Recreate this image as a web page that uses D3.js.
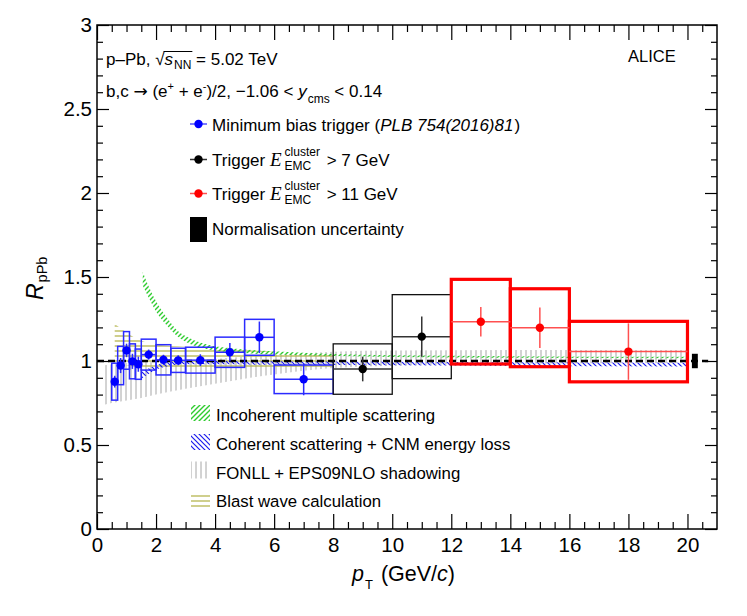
<!DOCTYPE html>
<html>
<head>
<meta charset="utf-8">
<script src="https://cdn.jsdelivr.net/npm/d3@7"></script>
<style>
  body { margin: 0; background: #fff; }
  text { white-space: pre; }
</style>
</head>
<body>
<script>
// ---- data ----
// minimum bias (PLB 754 (2016) 81)
const mbPt   = [0.6, 0.8, 1.0, 1.2, 1.4, 1.75, 2.25, 2.75, 3.5, 4.5, 5.5, 7.0];
const mbLo   = [0.5, 0.7, 0.9, 1.1, 1.3, 1.5, 2.0, 2.5, 3.0, 4.0, 5.0, 6.0];
const mbHi   = [0.7, 0.9, 1.1, 1.3, 1.5, 2.0, 2.5, 3.0, 4.0, 5.0, 6.0, 8.0];
const mbR    = [0.877, 0.973, 1.063, 0.998, 0.981, 1.038, 1.007, 1.004, 1.005, 1.052, 1.141, 0.891];
const mbStat = [0.035, 0.045, 0.04, 0.045, 0.045, 0.03, 0.03, 0.03, 0.035, 0.055, 0.094, 0.095];
const mbSys  = [0.11, 0.114, 0.112, 0.104, 0.09, 0.092, 0.09, 0.072, 0.077, 0.09, 0.107, 0.085];

// EMCal trigger > 7 GeV
const e7Pt   = [9, 11];
const e7Lo   = [8, 10];
const e7Hi   = [10, 12];
const e7R    = [0.952, 1.145];
const e7Stat = [0.073, 0.12];
const e7Sys  = [0.15, 0.25];

// EMCal trigger > 11 GeV
const e11Pt   = [13, 15, 18];
const e11Lo   = [12, 14, 16];
const e11Hi   = [14, 16, 20];
const e11R    = [1.234, 1.198, 1.056];
const e11Stat = [0.088, 0.12, 0.168];
const e11Sys  = [0.252, 0.232, 0.18];

// normalisation uncertainty
const normPt = [20.15, 20.35];
const normUnc = 0.043;

// model bands
const incohPt = [1.55, 1.8, 2.0, 2.4, 2.7, 3.1, 3.7, 4.8, 6.3, 8, 12, 20];
const incohHi = [1.53, 1.425, 1.355, 1.25, 1.185, 1.14, 1.10, 1.072, 1.055, 1.042, 1.031, 1.025];
const incohLo = [1.45, 1.36, 1.295, 1.205, 1.15, 1.105, 1.072, 1.05, 1.037, 1.03, 1.021, 1.016];

const cohPt = [1.5, 1.8, 2.0, 2.5, 3, 4, 6, 10, 14, 20];
const cohHi = [0.935, 0.96, 0.975, 0.995, 1.0, 1.0, 0.998, 0.995, 0.993, 0.99];
const cohLo = [0.895, 0.928, 0.948, 0.972, 0.98, 0.98, 0.977, 0.974, 0.97, 0.967];

const fonllPt = [0.25, 0.5, 1, 1.5, 2, 3, 4, 5, 6, 8, 10, 14, 20];
const fonllHi = [0.975, 0.98, 0.99, 0.995, 1.0, 1.005, 1.012, 1.025, 1.035, 1.055, 1.062, 1.065, 1.065];
const fonllLo = [0.74, 0.75, 0.765, 0.78, 0.80, 0.835, 0.865, 0.895, 0.92, 0.958, 0.972, 0.983, 0.988];

const bwPt = [0.6, 1.0, 1.5, 2.0, 3.0, 4.0, 5.0, 6.0, 7.0, 8.0];
const bwHi = [1.22, 1.17, 1.12, 1.10, 1.085, 1.075, 1.065, 1.055, 1.045, 1.04];
const bwLo = [0.99, 0.975, 0.96, 0.955, 0.95, 0.95, 0.95, 0.952, 0.955, 0.958];

// ticks
const xMajor = [0, 2, 4, 6, 8, 10, 12, 14, 16, 18, 20];
const yMajor = [0, 0.5, 1, 1.5, 2, 2.5, 3];

const sans = "'Liberation Sans', Arial, Helvetica, sans-serif";
const serif = "'Liberation Serif', 'Times New Roman', serif";
const sym = "'DejaVu Sans', sans-serif";

var width = 747, height = 616;
var plot = {left: 97, right: 717, top: 25, bottom: 529};

var x = d3.scaleLinear().domain([0, 21]).range([plot.left, plot.right]);
var y = d3.scaleLinear().domain([0, 3]).range([plot.bottom, plot.top]);

var svg = d3.select("body").append("svg")
    .attr("width", width)
    .attr("height", height)
    .attr("font-family", sans);

// hatch patterns
var defs = svg.append("defs");
function hatch(id, w, h, d, color, sw) {
    defs.append("pattern")
        .attr("id", id)
        .attr("patternUnits", "userSpaceOnUse")
        .attr("width", w).attr("height", h)
        .append("path")
        .attr("d", d)
        .attr("stroke", color)
        .attr("stroke-width", sw)
        .attr("fill", "none");
}
hatch("h-green", 5, 5, "M-1,1 l2,-2 M0,5 l5,-5 M4,6 l2,-2", "#2fcc2f", 1.4);
hatch("h-blue", 5, 5, "M-1,4 l2,2 M0,0 l5,5 M4,-1 l2,2", "#1a1aee", 1.2);
hatch("h-gray", 5, 5, "M1,0 v5", "#a6a6a6", 1);
hatch("h-olive", 5, 5, "M0,1 h5", "#b4b44e", 1.3);

// ---- model bands ----
function band(pt, lo, hi) {
    return pt.map((p, i) => ({pt: p, lo: lo[i], hi: hi[i]}));
}
var area = d3.area()
    .x(d => x(d.pt))
    .y0(d => y(d.lo))
    .y1(d => y(d.hi))
    .curve(d3.curveMonotoneX);

const bands = svg.append("g").attr("class", "bands");
bands.append("path").datum(band(fonllPt, fonllLo, fonllHi))
    .attr("d", area).attr("fill", "url(#h-gray)");
bands.append("path").datum(band(bwPt, bwLo, bwHi))
    .attr("d", area).attr("fill", "url(#h-olive)");
bands.append("path").datum(band(incohPt, incohLo, incohHi))
    .attr("d", area).attr("fill", "url(#h-green)");
bands.append("path").datum(band(cohPt, cohLo, cohHi))
    .attr("d", area).attr("fill", "url(#h-blue)");

// unity line
svg.append("line")
    .attr("x1", x(0)).attr("x2", x(20.7))
    .attr("y1", y(1)).attr("y2", y(1))
    .attr("stroke", "black")
    .attr("stroke-width", 2.4)
    .attr("stroke-dasharray", "7,4");

// ---- data ----
function rows(pt, lo, hi, r, st, sy) {
    return pt.map((p, i) => ({pt: p, lo: lo[i], hi: hi[i], r: r[i], stat: st[i], sys: sy[i]}));
}
function series(data, boxColor, boxWidth, barColor, markColor) {
    const g = svg.append("g");
    g.selectAll("rect.sys")
        .data(data).enter().append("rect")
        .attr("class", "sys")
        .attr("x", d => x(d.lo))
        .attr("width", d => x(d.hi) - x(d.lo))
        .attr("y", d => y(d.r + d.sys))
        .attr("height", d => y(d.r - d.sys) - y(d.r + d.sys))
        .attr("fill", "none")
        .attr("stroke", boxColor)
        .attr("stroke-width", boxWidth);
    g.selectAll("line.xerr")
        .data(data).enter().append("line")
        .attr("x1", d => x(d.lo)).attr("x2", d => x(d.hi))
        .attr("y1", d => y(d.r)).attr("y2", d => y(d.r))
        .attr("stroke", barColor).attr("stroke-width", 1.5);
    g.selectAll("line.yerr")
        .data(data).enter().append("line")
        .attr("x1", d => x(d.pt)).attr("x2", d => x(d.pt))
        .attr("y1", d => y(d.r + d.stat)).attr("y2", d => y(d.r - d.stat))
        .attr("stroke", barColor).attr("stroke-width", 1.5);
    g.selectAll("circle")
        .data(data).enter().append("circle")
        .attr("cx", d => x(d.pt)).attr("cy", d => y(d.r))
        .attr("r", 4.2)
        .attr("fill", markColor);
}
series(rows(mbPt, mbLo, mbHi, mbR, mbStat, mbSys), "#2b2bff", 1.5, "#2b2bff", "#0000ff");
series(rows(e7Pt, e7Lo, e7Hi, e7R, e7Stat, e7Sys), "#111", 1.3, "#333", "#000");
series(rows(e11Pt, e11Lo, e11Hi, e11R, e11Stat, e11Sys), "#ff0000", 3.2, "#ff5050", "#ff0000");

// normalisation box
svg.append("rect")
    .attr("x", x(normPt[0]))
    .attr("width", x(normPt[1]) - x(normPt[0]))
    .attr("y", y(1 + normUnc))
    .attr("height", y(1 - normUnc) - y(1 + normUnc))
    .attr("fill", "black");

// ---- rich text helper ----
function rich(g, x0, y0, segs, size) {
    let cx = x0;
    const marks = {};
    segs.forEach(s => {
        if (s.mark) { marks[s.mark] = cx; return; }
        if (s.stack) {
            let w = 0;
            s.stack.forEach(p => {
                const t = g.append("text")
                    .attr("x", cx).attr("y", y0 + p.dy)
                    .attr("font-size", s.size)
                    .text(p.t);
                w = Math.max(w, t.node().getComputedTextLength());
            });
            cx += w + (s.gap || 0);
            return;
        }
        const t = g.append("text")
            .attr("x", cx).attr("y", y0 + (s.dy || 0))
            .attr("font-size", s.size || size)
            .attr("font-family", s.font || (s.serif ? serif : null))
            .attr("font-style", s.it ? "italic" : "normal")
            .text(s.t);
        cx += t.node().getComputedTextLength() + (s.gap || 0);
    });
    return {end: cx, marks: marks};
}

// ---- header texts ----
const head = svg.append("g").attr("fill", "black");
var l1 = rich(head, 106, 65, [
    {t: "p–Pb, "}, {t: "√", gap: 0}, {mark: "a"},
    {t: "s", it: true, gap: 1}, {t: "NN", size: 12, dy: 4}, {mark: "b"},
    {t: " = 5.02 TeV"}
], 17);
head.append("line")
    .attr("x1", l1.marks.a - 1).attr("x2", l1.marks.b + 1)
    .attr("y1", 51.5).attr("y2", 51.5)
    .attr("stroke", "black").attr("stroke-width", 1);

rich(head, 106, 97, [
    {t: "b,c "}, {t: "→", font: sym, size: 17}, {t: " (e"}, {t: "+", size: 11, dy: -7}, {t: " + e"}, {t: "-", size: 11, dy: -7},
    {t: ")/2, −1.06 < "}, {t: "y", it: true, gap: 1}, {t: "cms", size: 12, dy: 6},
    {t: " < 0.14"}
], 17);

head.append("text")
    .attr("x", 628).attr("y", 61.5)
    .attr("font-size", 16.5)
    .text("ALICE");

// ---- marker legend ----
const leg = svg.append("g");
const legMarkers = [
    {c: "#0000ff", l: "#5050ff", y: 124},
    {c: "#000", l: "#333", y: 159.5},
    {c: "#ff0000", l: "#ff5050", y: 193.5}
];
leg.selectAll("line.lm").data(legMarkers).enter().append("line")
    .attr("x1", 190).attr("x2", 207)
    .attr("y1", d => d.y).attr("y2", d => d.y)
    .attr("stroke", d => d.l).attr("stroke-width", 1.5);
leg.selectAll("circle").data(legMarkers).enter().append("circle")
    .attr("cx", 198.5).attr("cy", d => d.y).attr("r", 4.2)
    .attr("fill", d => d.c);

rich(leg, 212, 131, [
    {t: "Minimum bias trigger ("}, {t: "PLB 754(2016)81", it: true, gap: 1}, {t: ")"}
], 17);
rich(leg, 212, 166, [
    {t: "Trigger "}, {t: "E", it: true, serif: true, size: 19, gap: 3},
    {stack: [{t: "cluster", dy: -10}, {t: "EMC", dy: 4}], size: 12, gap: 2},
    {t: " > 7 GeV"}
], 17);
rich(leg, 212, 200, [
    {t: "Trigger "}, {t: "E", it: true, serif: true, size: 19, gap: 3},
    {stack: [{t: "cluster", dy: -10}, {t: "EMC", dy: 4}], size: 12, gap: 2},
    {t: " > 11 GeV"}
], 17);
leg.append("rect")
    .attr("x", 190).attr("y", 217).attr("width", 17).attr("height", 25)
    .attr("fill", "black");
rich(leg, 212, 235, [{t: "Normalisation uncertainty"}], 17);

// ---- model legend ----
const modelLeg = [
    {fill: "url(#h-green)", label: "Incoherent multiple scattering", y: 421, h: 16},
    {fill: "url(#h-blue)", label: "Coherent scattering + CNM energy loss", y: 450, h: 16},
    {fill: "url(#h-gray)", label: "FONLL + EPS09NLO shadowing", y: 478.5, h: 17},
    {fill: "url(#h-olive)", label: "Blast wave calculation", y: 507, h: 14}
];
const ml = svg.append("g");
ml.selectAll("rect").data(modelLeg).enter().append("rect")
    .attr("x", 191).attr("width", 19)
    .attr("y", d => d.y - d.h).attr("height", d => d.h)
    .attr("fill", d => d.fill);
ml.selectAll("text").data(modelLeg).enter().append("text")
    .attr("x", 216).attr("y", d => d.y)
    .attr("font-size", 16.8)
    .text(d => d.label);

// ---- axes ----
function minor(step, lo, hi, skip) {
    return d3.range(lo, hi + 1e-9, step).filter(v => !skip.some(s => Math.abs(s - v) < 1e-6));
}
const xMinor = minor(0.5, 0, 20.5, xMajor);
const yMinor = minor(0.1, 0, 3, yMajor);

function styleAxis(g) {
    g.select(".domain").remove();
    g.selectAll(".tick line").attr("stroke", "black").attr("stroke-width", 1.2);
    g.selectAll(".tick text").attr("font-family", sans).attr("font-size", 20.5).attr("fill", "black");
}

svg.append("g").attr("transform", `translate(0,${plot.bottom})`)
    .call(d3.axisBottom(x).tickValues(xMajor).tickSize(-15).tickPadding(8).tickFormat(d3.format("d")))
    .call(styleAxis);
svg.append("g").attr("transform", `translate(0,${plot.bottom})`)
    .call(d3.axisBottom(x).tickValues(xMinor).tickSize(-7).tickFormat(""))
    .call(styleAxis);
svg.append("g").attr("transform", `translate(0,${plot.top})`)
    .call(d3.axisTop(x).tickValues(xMajor).tickSize(-15).tickFormat(""))
    .call(styleAxis);
svg.append("g").attr("transform", `translate(0,${plot.top})`)
    .call(d3.axisTop(x).tickValues(xMinor).tickSize(-7).tickFormat(""))
    .call(styleAxis);

svg.append("g").attr("transform", `translate(${plot.left},0)`)
    .call(d3.axisLeft(y).tickValues(yMajor).tickSize(-12).tickPadding(5).tickFormat(d => String(d)))
    .call(styleAxis);
svg.append("g").attr("transform", `translate(${plot.left},0)`)
    .call(d3.axisLeft(y).tickValues(yMinor).tickSize(-6).tickFormat(""))
    .call(styleAxis);
svg.append("g").attr("transform", `translate(${plot.right},0)`)
    .call(d3.axisRight(y).tickValues(yMajor).tickSize(-12).tickFormat(""))
    .call(styleAxis);
svg.append("g").attr("transform", `translate(${plot.right},0)`)
    .call(d3.axisRight(y).tickValues(yMinor).tickSize(-6).tickFormat(""))
    .call(styleAxis);

// frame
svg.append("rect")
    .attr("x", plot.left).attr("y", plot.top)
    .attr("width", plot.right - plot.left)
    .attr("height", plot.bottom - plot.top)
    .attr("fill", "none")
    .attr("stroke", "black")
    .attr("stroke-width", 1.5);

// axis titles
const xt = svg.append("g");
rich(xt, 0, 581, [
    {t: "p", it: true, gap: 1}, {t: "T", size: 13, dy: 8, gap: 2}, {t: " (GeV/"}, {t: "c", it: true}, {t: ")"}
], 21.5);
xt.attr("transform", `translate(${352},0)`);

const yt = svg.append("g").attr("transform", "translate(43,300) rotate(-90)");
rich(yt, 0, 0, [
    {t: "R", it: true, gap: 1}, {t: "pPb", size: 14.5, dy: 4}
], 23);
</script>
</body>
</html>
